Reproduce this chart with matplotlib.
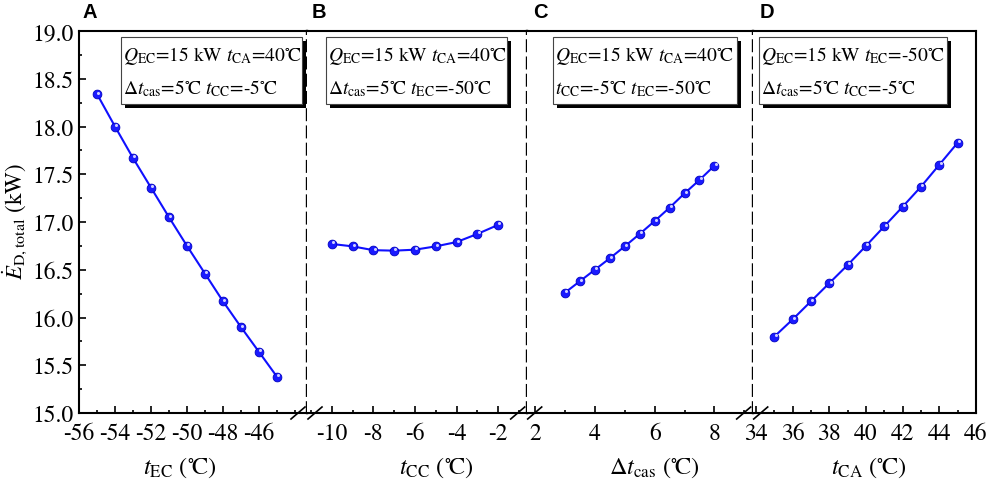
import matplotlib
matplotlib.use("Agg")
import matplotlib.pyplot as plt
from matplotlib.ticker import MultipleLocator, FixedLocator, FormatStrFormatter
from matplotlib.lines import Line2D
from matplotlib.patches import Rectangle
from matplotlib.transforms import offset_copy

plt.rcParams['font.family'] = ['STIXGeneral', 'DejaVu Serif']
plt.rcParams['mathtext.fontset'] = 'stix'
plt.rcParams['axes.unicode_minus'] = False

# ---- data ----
a_x = [-55, -54, -53, -52, -51, -50, -49, -48, -47, -46, -45]
a_y = [18.34, 18.00, 17.67, 17.36, 17.05, 16.75, 16.46, 16.17, 15.90, 15.64, 15.38]
b_x = [-10, -9, -8, -7, -6, -5, -4, -3, -2]
b_y = [16.77, 16.745, 16.705, 16.70, 16.71, 16.745, 16.79, 16.875, 16.97]
c_x = [3, 3.5, 4, 4.5, 5, 5.5, 6, 6.5, 7, 7.5, 8]
c_y = [16.26, 16.38, 16.50, 16.62, 16.745, 16.875, 17.01, 17.15, 17.30, 17.44, 17.59]
d_x = [35, 36, 37, 38, 39, 40, 41, 42, 43, 44, 45]
d_y = [15.80, 15.98, 16.17, 16.36, 16.55, 16.75, 16.955, 17.16, 17.37, 17.60, 17.83]

xticks = [[-56, -54, -52, -50, -48, -46], [-10, -8, -6, -4, -2], [2, 4, 6, 8],
          [34, 36, 38, 40, 42, 44, 46]]
xlims = [(-56, -43.33), (-11.19, -0.63), (1.72, 9.28), (33.82, 46)]
DEG = r'$^{\circ}\!\mathrm{C}$'
xlabels = [r'$t_{\mathrm{EC}}$ (' + DEG + ')', r'$t_{\mathrm{CC}}$ (' + DEG + ')',
           r'$\Delta t_{\mathrm{cas}}$ (' + DEG + ')', r'$t_{\mathrm{CA}}$ (' + DEG + ')']
letters = ['A', 'B', 'C', 'D']
box_text = [
    (r'$Q_{\mathrm{EC}}$=15 kW $t_{\mathrm{CA}}$=40' + DEG, r'$\Delta t_{\mathrm{cas}}$=5' + DEG + r' $t_{\mathrm{CC}}$=-5' + DEG),
    (r'$Q_{\mathrm{EC}}$=15 kW $t_{\mathrm{CA}}$=40' + DEG, r'$\Delta t_{\mathrm{cas}}$=5' + DEG + r' $t_{\mathrm{EC}}$=-50' + DEG),
    (r'$Q_{\mathrm{EC}}$=15 kW $t_{\mathrm{CA}}$=40' + DEG, r'$t_{\mathrm{CC}}$=-5' + DEG + r' $t_{\mathrm{EC}}$=-50' + DEG),
    (r'$Q_{\mathrm{EC}}$=15 kW $t_{\mathrm{EC}}$=-50' + DEG, r'$\Delta t_{\mathrm{cas}}$=5' + DEG + r' $t_{\mathrm{CC}}$=-5' + DEG),
]
series = [(a_x, a_y), (b_x, b_y), (c_x, c_y), (d_x, d_y)]

# ---- layout (pixels) ----
W, H = 989, 489
def fx(x): return x / W
def fy(y): return 1 - y / H

edges = [79, 307, 526.7, 752.7, 976]
top, bot = 32, 414
box_left = [120.7, 325.7, 553.3, 759.3]
box_w = [181, 181, 184, 187.4]
letter_x = [90, 319, 540, 767]
label_x = [180, 436, 654, 869]

fig = plt.figure(figsize=(W / 100, H / 100), dpi=100)
blue = '#1010ff'
axes = []
for i in range(4):
    ax = fig.add_axes([fx(edges[i]), fy(bot), (edges[i + 1] - edges[i]) / W, (bot - top) / H],
                      sharey=axes[0] if axes else None)
    axes.append(ax)
    x, y = series[i]
    ax.plot(x, y, color=blue, lw=1.5, marker='o', ms=6.3, mfc='#1a1aff', mec='#0000c0', mew=0.6)
    hl = offset_copy(ax.transData, fig=fig, x=0.9, y=1.1, units='points')
    ax.plot(x, y, ls='none', marker='o', ms=2.2, mfc='#d0d0ff', mec='none', transform=hl)
    ax.set_xlim(*xlims[i])
    ax.xaxis.set_major_locator(FixedLocator(xticks[i]))
    ax.xaxis.set_minor_locator(MultipleLocator(1))
    ax.tick_params(axis='both', which='both', direction='in', labelsize=17, width=1.2)
    ax.tick_params(axis='x', which='major', length=5, pad=7)
    ax.tick_params(axis='x', which='minor', length=2.5)
    for s in ax.spines.values():
        s.set_linewidth(1.5)
    if i > 0:
        ax.spines['left'].set_visible(False)
        ax.tick_params(axis='y', which='both', left=False, labelleft=False)
    if i < 3:
        ax.spines['right'].set_linestyle((0, (4.5, 2.8)))
        ax.spines['right'].set_linewidth(1.7)

a0 = axes[0]
a0.set_ylim(15, 19)
a0.yaxis.set_major_locator(MultipleLocator(0.5))
a0.yaxis.set_minor_locator(MultipleLocator(0.25))
a0.yaxis.set_major_formatter(FormatStrFormatter('%.1f'))
a0.tick_params(axis='y', which='major', length=5, pad=4)
a0.tick_params(axis='y', which='minor', length=2.5)

# break marks on the bottom axis
for b in edges[1:4]:
    for c in (b - 9, b + 8):
        fig.add_artist(Line2D([fx(c - 7), fx(c + 7)], [fy(bot + 6), fy(bot - 6)], color='k', lw=1.2))

# condition boxes with shadow
for i in range(4):
    x0, w = box_left[i], box_w[i]
    y0, y1 = 38.3, 105
    fig.add_artist(Rectangle((fx(x0 + 4), fy(y1 + 4)), w / W, (y1 - y0) / H,
                             transform=fig.transFigure, facecolor='k', edgecolor='k', lw=0))
    fig.add_artist(Rectangle((fx(x0), fy(y1)), w / W, (y1 - y0) / H,
                             transform=fig.transFigure, facecolor='white', edgecolor='#444444', lw=0.8))
    fig.text(fx(x0 + 2), fy(61), box_text[i][0], fontsize=14, va='baseline', ha='left')
    fig.text(fx(x0 + 2), fy(94), box_text[i][1], fontsize=14, va='baseline', ha='left')

for i in range(4):
    fig.text(fx(letter_x[i]), fy(12), letters[i], family='Liberation Sans', weight='bold',
             fontsize=14.5, ha='center', va='center')
    fig.text(fx(label_x[i]), fy(474), xlabels[i], fontsize=17.5, ha='center', va='baseline')

fig.text(fx(15), fy(222), r'$\dot{E}_{\mathrm{D,total}}$ (kW)', rotation=90, fontsize=16.5,
         ha='center', va='center')

fig.savefig('out.png', dpi=100)
